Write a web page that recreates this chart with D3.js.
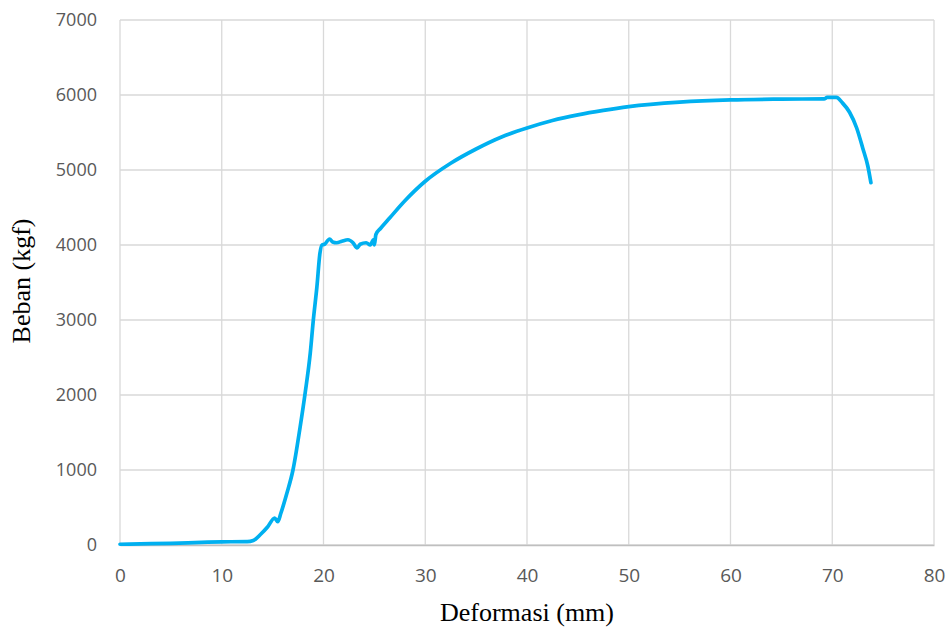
<!DOCTYPE html>
<html>
<head>
<meta charset="utf-8">
<script src="https://cdn.jsdelivr.net/npm/d3@7"></script>
<style>
  body { margin: 0; background: #fff; }
  .tick text { font-family: "Open Sans", "Noto Sans", sans-serif; fill: #595959; }
</style>
</head>
<body>
<div id="chart"></div>
<script>
(function() {
  'use strict';
  var WIDTH = 950;
  var HEIGHT = 628;

  // load-deformation readings (mm, kgf)
  var deformasi = [0, 2, 5, 8, 10, 12.5, 13.1, 13.8, 14.5, 15.2, 15.5, 15.8, 16.4, 17.0, 17.7,
    18.2, 18.7, 19.0, 19.35, 19.65, 19.85, 20.1, 20.6, 20.9, 21.3, 21.8, 22.4, 22.9, 23.3,
    23.6, 24.2, 24.6, 24.9, 25.0, 25.15, 25.6, 26.5, 28, 30, 32.5, 35, 37.5, 40, 42.5, 45, 47.5,
    50, 55, 60, 65, 69.2, 69.5, 70.4, 71.0, 71.7, 72.4, 73.0, 73.5, 73.8];
  var beban = [10, 15, 22, 35, 42, 45, 60, 140, 240, 360, 310, 420, 690, 1000, 1570,
    2030, 2560, 3000, 3440, 3890, 4000, 4010, 4080, 4040, 4030, 4050, 4070, 4030, 3960,
    4010, 4030, 4000, 4070, 4000, 4140, 4220, 4360, 4590, 4850, 5090, 5280, 5440, 5560, 5660, 5735, 5795,
    5845, 5905, 5935, 5945, 5948, 5968, 5968, 5895, 5770, 5560, 5290, 5050, 4830];
  var xTicks = [0, 10, 20, 30, 40, 50, 60, 70, 80];
  var yTicks = [0, 1000, 2000, 3000, 4000, 5000, 6000, 7000];

  var margin = {top: 20, right: 16, bottom: 83, left: 120};
  var width = WIDTH - margin.left - margin.right;
  var height = HEIGHT - margin.top - margin.bottom;

  var svg = d3.select('#chart').append('svg')
    .attr('width', WIDTH)
    .attr('height', HEIGHT);
  var g = svg.append('g')
    .attr('transform', 'translate(' + margin.left + ',' + margin.top + ')');

  var x = d3.scaleLinear().domain([0, 80]).range([0, width]);
  var y = d3.scaleLinear().domain([0, 7000]).range([height, 0]);

  // gridlines
  g.append('g').selectAll('line').data(xTicks).enter().append('line')
    .attr('x1', function(d) { return x(d); })
    .attr('x2', function(d) { return x(d); })
    .attr('y1', 0).attr('y2', height)
    .attr('stroke', '#d9d9d9').attr('stroke-width', 1.3);
  g.append('g').selectAll('line').data(yTicks).enter().append('line')
    .attr('y1', function(d) { return y(d); })
    .attr('y2', function(d) { return y(d); })
    .attr('x1', 0).attr('x2', width)
    .attr('stroke', '#d9d9d9').attr('stroke-width', 1.3);

  var xAxis = g.append('g')
    .attr('transform', 'translate(0,' + height + ')')
    .call(d3.axisBottom(x).tickValues(xTicks).tickFormat(d3.format('d')).tickSize(0).tickPadding(24));
  xAxis.select('.domain').attr('stroke', '#bfbfbf').attr('stroke-width', 1.3);
  xAxis.selectAll('text').style('font-size', '19px');

  var yAxis = g.append('g')
    .call(d3.axisLeft(y).tickValues(yTicks).tickFormat(d3.format('d')).tickSize(0).tickPadding(23));
  yAxis.select('.domain').remove();
  yAxis.selectAll('text').style('font-size', '18px');

  var pts = deformasi.map(function(d, i) { return [d, beban[i]]; });
  var line = d3.line()
    .x(function(d) { return x(d[0]); })
    .y(function(d) { return y(d[1]); })
    .curve(d3.curveMonotoneX);
  g.append('path').datum(pts)
    .attr('d', line)
    .attr('fill', 'none')
    .attr('stroke', '#00b0f0')
    .attr('stroke-width', 3.7)
    .attr('stroke-linejoin', 'round')
    .attr('stroke-linecap', 'round');

  svg.append('text')
    .attr('x', 527)
    .attr('y', 621)
    .attr('text-anchor', 'middle')
    .style('font-family', '"Liberation Serif", "Times New Roman", serif')
    .style('font-size', '26px')
    .text('Deformasi (mm)');
  svg.append('text')
    .attr('transform', 'translate(30,281) rotate(-90)')
    .attr('text-anchor', 'middle')
    .style('font-family', '"Liberation Serif", "Times New Roman", serif')
    .style('font-size', '26px')
    .text('Beban (kgf)');
})();
</script>
</body>
</html>
